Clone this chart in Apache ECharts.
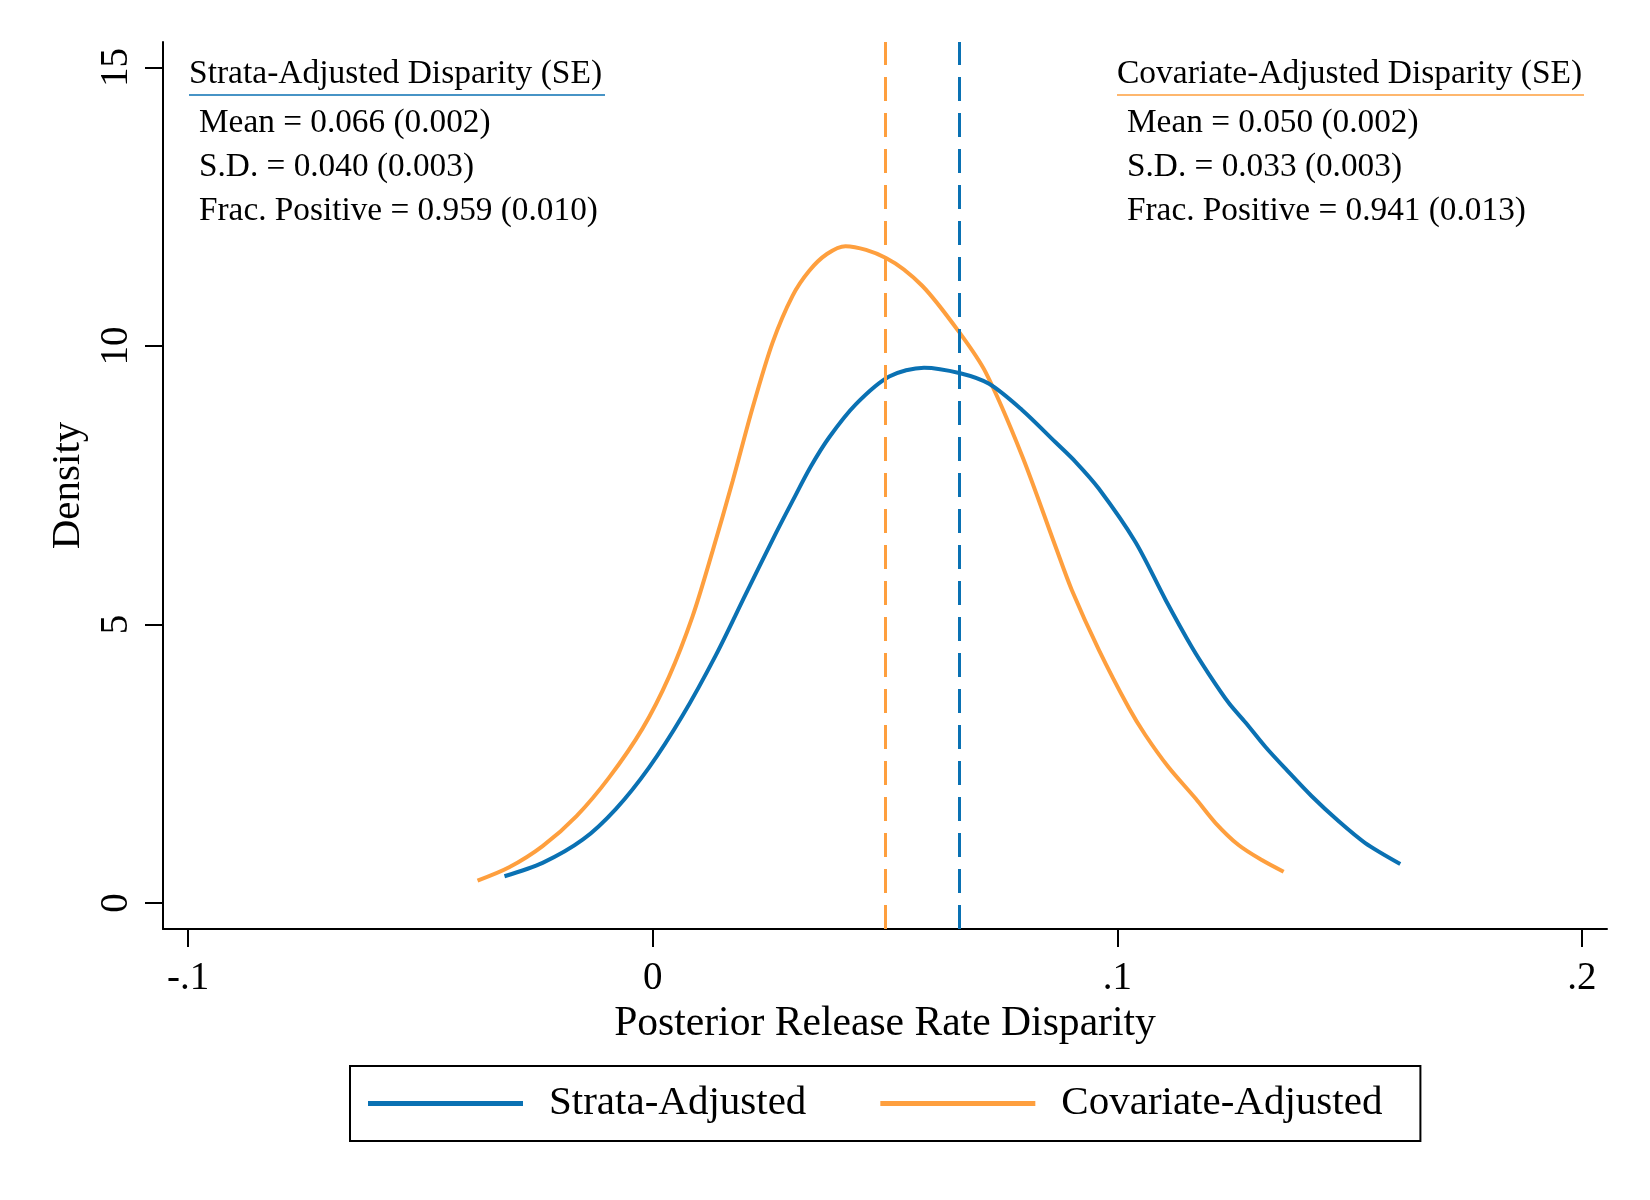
<!DOCTYPE html>
<html>
<head>
<meta charset="utf-8">
<script src="https://cdn.jsdelivr.net/npm/echarts@6/dist/echarts.min.js"></script>
<style>
html,body{margin:0;padding:0;background:#fff;}
#chart{width:1650px;height:1200px;}
</style>
</head>
<body>
<div id="chart"></div>
<script>
// ---- data ----
const seriesNames = ['Strata-Adjusted', 'Covariate-Adjusted'];
const strataDensity = [
  [-0.0319,0.48],[-0.0237,0.72],[-0.0150,1.14],[-0.0079,1.69],[-0.0008,2.43],[0.0064,3.36],
  [0.0136,4.45],[0.0200,5.54],[0.0258,6.52],[0.0300,7.20],[0.0340,7.83],[0.0380,8.36],
  [0.0437,8.95],[0.0509,9.45],[0.0584,9.61],[0.0662,9.51],[0.0724,9.32],[0.0795,8.85],
  [0.0867,8.27],[0.0910,7.92],[0.0960,7.44],[0.1039,6.48],[0.1104,5.44],[0.1160,4.60],
  [0.1197,4.11],[0.1240,3.59],[0.1276,3.24],[0.1319,2.80],[0.1362,2.41],[0.1418,1.92],
  [0.1476,1.47],[0.1533,1.08],[0.1609,0.70]
];
const covariateDensity = [
  [-0.0377,0.40],[-0.0309,0.64],[-0.0237,1.02],[-0.0164,1.56],[-0.0094,2.25],[-0.0022,3.13],
  [0.0035,4.06],[0.0086,5.15],[0.0129,6.32],[0.0172,7.57],[0.0215,8.89],[0.0258,10.06],
  [0.0301,10.90],[0.0337,11.35],[0.0375,11.65],[0.0415,11.79],[0.0502,11.58],[0.0580,11.08],
  [0.0662,10.22],[0.0717,9.52],[0.0795,8.03],[0.0867,6.40],[0.0902,5.62],[0.0960,4.55],
  [0.1025,3.50],[0.1060,3.02],[0.1110,2.44],[0.1169,1.87],[0.1211,1.44],
  [0.1261,1.04],[0.1311,0.77],[0.1358,0.56]
];
const means = [0.066, 0.050];
const xTickValues = [-0.1, 0, 0.1, 0.2];
const xTickLabels = ['-.1', '0', '.1', '.2'];
const yTickValues = [0, 5, 10, 15];
const yTickLabels = ['0', '5', '10', '15'];
const strataStats = ['Strata-Adjusted Disparity (SE)', 'Mean = 0.066 (0.002)', 'S.D. = 0.040 (0.003)', 'Frac. Positive = 0.959 (0.010)'];
const covStats = ['Covariate-Adjusted Disparity (SE)', 'Mean = 0.050 (0.002)', 'S.D. = 0.033 (0.003)', 'Frac. Positive = 0.941 (0.013)'];

const BLUE = '#0a71b3';
const ORANGE = '#fe9f3e';
const FONT = '"Liberation Serif", "Times New Roman", serif';

const chart = echarts.init(document.getElementById('chart'));

function statText(lines, x, color, underlineW) {
  const els = [];
  els.push({type:'text', left:x, top:57, style:{text:lines[0], font:'33.5px ' + FONT, fill:'#000'}});
  els.push({type:'line', shape:{x1:x, y1:95, x2:x+underlineW, y2:95}, style:{stroke:color, lineWidth:1.5}});
  for (let i = 1; i < lines.length; i++) {
    els.push({type:'text', left:x+10, top:107 + (i-1)*44, style:{text:lines[i], font:'33.3px ' + FONT, fill:'#000'}});
  }
  return els;
}

chart.setOption({
  animation: false,
  backgroundColor: '#fff',
  grid: {left:163, right:43, top:42, bottom:271, containLabel:false},
  xAxis: {
    type:'value', min:-0.1054, max:0.2054,
    name:'Posterior Release Rate Disparity', nameLocation:'middle', nameGap:72,
    nameTextStyle:{fontFamily:FONT, fontSize:41.6, color:'#000'},
    axisLine:{show:true, onZero:false, lineStyle:{color:'#000', width:2}},
    axisTick:{show:true, length:18, lineStyle:{color:'#000', width:2}, customValues:xTickValues},
    axisLabel:{show:true, customValues:xTickValues, margin:30, fontFamily:FONT, fontSize:39, color:'#000',
      formatter: v => { const i = xTickValues.findIndex(t => Math.abs(t - v) < 1e-9); return i >= 0 ? xTickLabels[i] : ''; }},
    splitLine:{show:false}
  },
  yAxis: {
    type:'value', min:-0.467, max:15.456,
    name:'Density', nameLocation:'middle', nameGap:73, nameRotate:90,
    nameTextStyle:{fontFamily:FONT, fontSize:41, color:'#000'},
    axisLine:{show:true, onZero:false, lineStyle:{color:'#000', width:2}},
    axisTick:{show:true, length:18, lineStyle:{color:'#000', width:2}, customValues:yTickValues},
    axisLabel:{show:true, customValues:yTickValues, rotate:90, margin:27, fontFamily:FONT, fontSize:39, color:'#000',
      formatter: v => { const i = yTickValues.findIndex(t => Math.abs(t - v) < 1e-9); return i >= 0 ? yTickLabels[i] : ''; }},
    splitLine:{show:false}
  },
  legend: {
    left:350, top:1066,
    orient:'horizontal',
    borderColor:'#000', borderWidth:2,
    padding:[17, 38, 17, 18],
    itemWidth:155, itemHeight:5, itemGap:74,
    icon:'rect',
    textStyle:{fontFamily:FONT, fontSize:41, color:'#000', padding:[0,0,10,21]},
    data: seriesNames
  },
  series: [
    {
      name: seriesNames[0], type:'line', data: strataDensity, smooth:0.3, showSymbol:false,
      lineStyle:{color:BLUE, width:4}, itemStyle:{color:BLUE}, z:3,
      markLine:{silent:true, precision:6, symbol:['none','none'], label:{show:false},
        lineStyle:{color:BLUE, width:3, type:[24,12]}, data:[{xAxis:means[0]}]}
    },
    {
      name: seriesNames[1], type:'line', data: covariateDensity, smooth:0.3, showSymbol:false,
      lineStyle:{color:ORANGE, width:4}, itemStyle:{color:ORANGE}, z:2,
      markLine:{silent:true, precision:6, symbol:['none','none'], label:{show:false},
        lineStyle:{color:ORANGE, width:3, type:[24,12]}, data:[{xAxis:means[1]}]}
    }
  ],
  graphic: [].concat(statText(strataStats, 189, BLUE, 416), statText(covStats, 1117, ORANGE, 467))
});
</script>
</body>
</html>
